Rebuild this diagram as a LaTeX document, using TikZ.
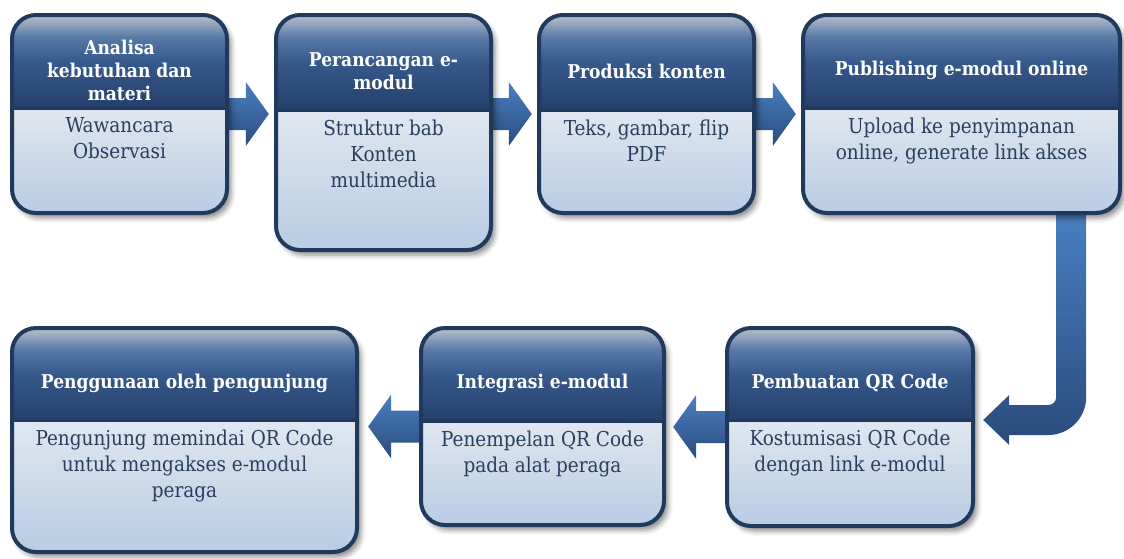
\documentclass[tikz,border=0pt]{standalone}
\usepackage{fontspec}
\setmainfont{DejaVu Serif Condensed}
\usetikzlibrary{calc,fit,shadows.blur,backgrounds}

\definecolor{navyline}{HTML}{1F3A5D}
\definecolor{headlow}{HTML}{24406A}
\definecolor{headmid}{HTML}{36598C}
\definecolor{headhigh}{HTML}{5679A6}
\definecolor{headtop}{HTML}{B7C1CD}
\definecolor{bodytop}{HTML}{E0E7F0}
\definecolor{bodybot}{HTML}{B8CCE4}
\definecolor{bodyink}{HTML}{283F60}
\definecolor{arrowtop}{HTML}{4A80C3}
\definecolor{arrowbot}{HTML}{2A4B7B}

% glossy header: light at the top, dark navy at the bottom
\pgfdeclareverticalshading{headgloss}{100bp}{color(0bp)=(headlow); color(25bp)=(headlow);
  color(50bp)=(headmid); color(63bp)=(headhigh); color(75bp)=(headtop); color(100bp)=(headtop)}

\tikzset{
  headtext/.style={text=white, font=\fontsize{19}{23}\selectfont\bfseries, align=center},
  bodytext/.style={text=bodyink, font=\fontsize{20.5}{26}\selectfont, align=center},
  arrowfill/.style={top color=arrowtop, bottom color=arrowbot}
}

% #1 name, #2 left, #3 top, #4 right, #5 bottom, #6 divider, #7 header, #8 body
\newcommand{\stepcard}[8]{%
  \fill[white, rounded corners=24pt, blur shadow={shadow xshift=4pt, shadow yshift=-5pt,
    shadow opacity=45, shadow blur radius=5pt}] (#2,#3) rectangle (#4,#5);
  \begin{scope}
    \clip[rounded corners=24pt] (#2,#3) rectangle (#4,#5);
    \shade[shading=headgloss] (#2,#3) rectangle (#4,#6);
    \shade[top color=bodytop, bottom color=bodybot] (#2,#6) rectangle (#4,#5);
  \end{scope}
  \draw[navyline, line width=3pt] (#2,#6) -- (#4,#6);
  \draw[navyline, line width=4pt, rounded corners=24pt] (#2,#3) rectangle (#4,#5);
  \node[fit={(#2,#3) (#4,#5)}, inner sep=0pt] (#1) {};
  \node[headtext] (#1-head) at ({(#2+#4)/2},{(#3+#6)/2+9}) {#7};
  \node[bodytext, anchor=north] (#1-body) at ({(#2+#4)/2},#6+6) {#8};
}

% fat arrow from #1 to the tip #2, #3 = signed head length
\newcommand{\flowarrow}[3]{%
  \shade[arrowfill] let \p1=(#1), \p2=(#2) in
    (\x1,\y2+16pt) -- (\x2+#3pt,\y2+16pt) -- (\x2+#3pt,\y2+32pt) -- (\x2,\y2)
    -- (\x2+#3pt,\y2-32pt) -- (\x2+#3pt,\y2-16pt) -- (\x1,\y2-16pt) -- cycle;
}

\begin{document}
\begin{tikzpicture}[x=1pt, y=-1pt]
\useasboundingbox (0,0) rectangle (1124,558);

% top row
\stepcard{p1}{12}{15}{227}{213}{108}{Analisa\\kebutuhan dan\\materi}{Wawancara\\Observasi}
\stepcard{p2}{276}{15}{491}{250}{110}{Perancangan e-\\modul}{Struktur bab\\Konten\\multimedia}
\stepcard{p3}{539}{15}{754}{213}{110}{Produksi konten}{Teks, gambar, flip\\PDF}
\stepcard{p4}{803}{15}{1120}{213}{108}{Publishing e-modul online}{Upload ke penyimpanan\\online, generate link akses}

% bottom row
\stepcard{p5}{12}{328}{357}{552}{420}{Penggunaan oleh pengunjung}{Pengunjung memindai QR Code\\untuk mengakses e-modul\\peraga}
\stepcard{p6}{421}{328}{664}{525}{421}{Integrasi e-modul}{Penempelan QR Code\\pada alat peraga}
\stepcard{p7}{727}{328}{973}{526}{420}{Pembuatan QR Code}{Kostumisasi QR Code\\dengan link e-modul}

\begin{scope}[on background layer]
\flowarrow{p1.east}{$(p2.west |- p1.east)+(-7,0)$}{-23}
\flowarrow{p2.east |- p3.west}{$(p3.west)+(-7,0)$}{-23}
\flowarrow{p3.east}{$(p4.west |- p3.east)+(-7,0)$}{-23}
\flowarrow{p7.west}{$(p6.east |- p7.west)+(9,0)$}{23}
\flowarrow{p6.west}{$(p5.east |- p6.west)+(11,0)$}{23}

% bent arrow down from p4 and back to p7
\coordinate (bendtop) at ($(p4.south east)+(-49,-6)$);
\coordinate (bendtip) at ($(p7.east)+(10,-7)$);
\shade[arrowfill] let \p1=(bendtop), \p2=(bendtip) in
  (\x1+15pt,\y1) -- (\x1+15pt,\y2+23pt) arc[start angle=0, end angle=-90, radius=38pt]
  -- (\x2+26pt,\y2-15pt) -- (\x2+26pt,\y2-25pt) -- (\x2,\y2) -- (\x2+26pt,\y2+25pt)
  -- (\x2+26pt,\y2+15pt) -- (\x1-23pt,\y2+15pt) arc[start angle=-90, end angle=0, radius=8pt]
  -- (\x1-15pt,\y1) -- cycle;
\end{scope}
\end{tikzpicture}
\end{document}
